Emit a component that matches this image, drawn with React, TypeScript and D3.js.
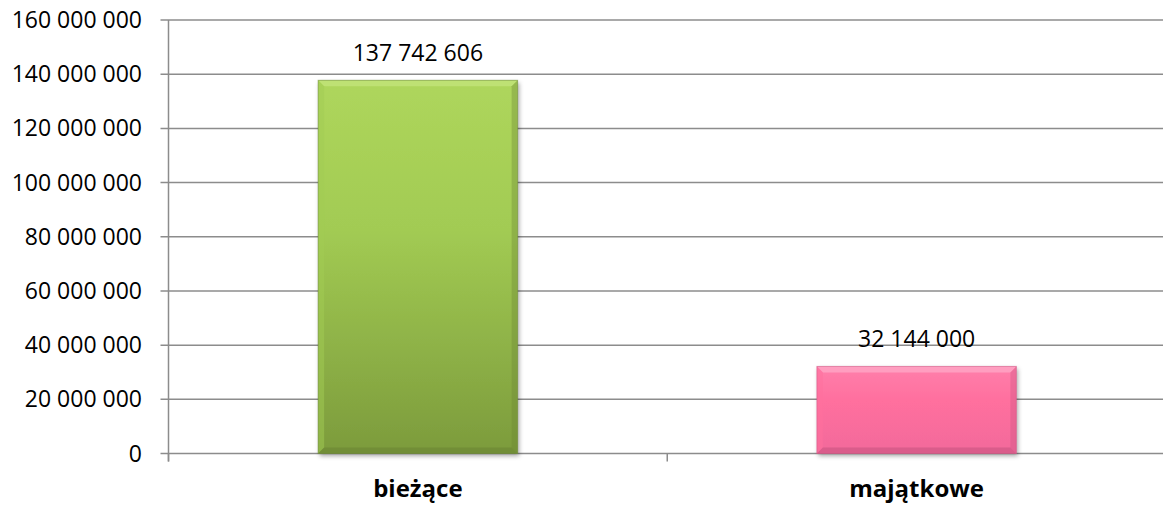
import React, { useEffect, useRef } from "react";
import * as d3 from "d3";

const categories = ["bieżące", "majątkowe"];
const values = [137742606, 32144000];
const valueLabels = ["137 742 606", "32 144 000"];
const yTicks = [0, 20000000, 40000000, 60000000, 80000000, 100000000, 120000000, 140000000, 160000000];

const fills = [
  { top: "#aed65c", mid: "#a2cb53", bottom: "#7c9b3c", light: "#c2e47a", dark: "#6a8533" },
  { top: "#ff7fab", mid: "#ff6f9e", bottom: "#f26a9b", light: "#ffa6c6", dark: "#c95480" },
];

const fmt = (v: number) => d3.format(",")(v).replace(/,/g, " ");
const font = "Open Sans, Carlito, Calibri, sans-serif";

const App = () => {
  const ref = useRef<SVGSVGElement>(null);

  useEffect(() => {
    const svg = d3.select(ref.current);
    svg.selectAll("*").remove();

    const width = 1163;
    const height = 508;
    svg.attr("width", width).attr("height", height);

    const left = 168.5;
    const right = 1166;

    const x = d3.scaleBand<string>().domain(categories).range([left, right]).paddingInner(0).paddingOuter(0);
    const y = d3.scaleLinear().domain([0, 160000000]).range([453.5, 20]);

    const defs = svg.append("defs");
    const shadow = defs.append("filter").attr("id", "shadow").attr("x", "-10%").attr("y", "-10%").attr("width", "130%").attr("height", "130%");
    shadow.append("feDropShadow").attr("dx", 1.5).attr("dy", 2.5).attr("stdDeviation", 2).attr("flood-color", "#000").attr("flood-opacity", 0.35);

    fills.forEach((f, i) => {
      const g = defs.append("linearGradient").attr("id", `grad${i}`).attr("x1", 0).attr("x2", 0).attr("y1", 0).attr("y2", 1);
      g.append("stop").attr("offset", "0%").attr("stop-color", f.top);
      g.append("stop").attr("offset", "40%").attr("stop-color", f.mid);
      g.append("stop").attr("offset", "100%").attr("stop-color", f.bottom);
    });

    // gridlines
    svg.append("g")
      .selectAll("line")
      .data(yTicks)
      .enter()
      .append("line")
      .attr("x1", left - 8)
      .attr("x2", width)
      .attr("y1", (d) => y(d))
      .attr("y2", (d) => y(d))
      .attr("stroke", "#8c8c8c")
      .attr("stroke-width", 1.5);

    // y axis line
    svg.append("line")
      .attr("x1", left).attr("x2", left)
      .attr("y1", y(160000000)).attr("y2", y(0) + 8)
      .attr("stroke", "#8c8c8c").attr("stroke-width", 1.5);

    // category ticks
    const catTicks = [left, ...categories.map((c) => (x(c) as number) + x.bandwidth())];
    svg.append("g")
      .selectAll("line")
      .data(catTicks)
      .enter()
      .append("line")
      .attr("x1", (d) => d)
      .attr("x2", (d) => d)
      .attr("y1", y(0))
      .attr("y2", y(0) + 8)
      .attr("stroke", "#8c8c8c")
      .attr("stroke-width", 1.5);

    // y labels
    svg.append("g")
      .selectAll("text")
      .data(yTicks)
      .enter()
      .append("text")
      .attr("x", 142)
      .attr("y", (d) => y(d))
      .attr("dy", "0.35em")
      .attr("text-anchor", "end")
      .style("font-family", font)
      .style("font-size", "23px")
      .style("fill", "#000")
      .text((d) => fmt(d));

    // bars
    const barW = x.bandwidth() / 2.5;
    const bev = 6;
    const bars = svg.append("g");
    categories.forEach((c, i) => {
      const x0 = (x(c) as number) + (x.bandwidth() - barW) / 2;
      const x1 = x0 + barW;
      const y0 = y(values[i]);
      const y1 = y(0);
      const f = fills[i];
      const g = bars.append("g");
      g.append("rect")
        .attr("x", x0).attr("y", y0).attr("width", barW).attr("height", y1 - y0)
        .attr("fill", `url(#grad${i})`)
        .attr("filter", "url(#shadow)");
      // bevel top
      g.append("polygon")
        .attr("points", [[x0, y0], [x1, y0], [x1 - bev, y0 + bev], [x0 + bev, y0 + bev]].map((p) => p.join(",")).join(" "))
        .attr("fill", f.light).attr("opacity", 0.8);
      // bevel left
      g.append("polygon")
        .attr("points", [[x0, y0], [x0 + bev, y0 + bev], [x0 + bev, y1 - bev], [x0, y1]].map((p) => p.join(",")).join(" "))
        .attr("fill", f.mid).attr("opacity", 0.5);
      // bevel right
      g.append("polygon")
        .attr("points", [[x1, y0], [x1 - bev, y0 + bev], [x1 - bev, y1 - bev], [x1, y1]].map((p) => p.join(",")).join(" "))
        .attr("fill", f.dark).attr("opacity", 0.35);
      // bevel bottom
      g.append("polygon")
        .attr("points", [[x0, y1], [x0 + bev, y1 - bev], [x1 - bev, y1 - bev], [x1, y1]].map((p) => p.join(",")).join(" "))
        .attr("fill", f.dark).attr("opacity", 0.6);
      g.append("rect")
        .attr("x", x0).attr("y", y0).attr("width", barW).attr("height", y1 - y0)
        .attr("fill", "none").attr("stroke", f.dark).attr("stroke-opacity", 0.5).attr("stroke-width", 1);
    });

    // value labels
    svg.append("g")
      .selectAll("text")
      .data(categories)
      .enter()
      .append("text")
      .attr("x", (d) => (x(d) as number) + x.bandwidth() / 2)
      .attr("y", (d, i) => y(values[i]) - 19)
      .attr("text-anchor", "middle")
      .style("font-family", font)
      .style("font-size", "23px")
      .style("fill", "#000")
      .text((d, i) => valueLabels[i]);

    // category labels
    svg.append("g")
      .selectAll("text")
      .data(categories)
      .enter()
      .append("text")
      .attr("x", (d) => (x(d) as number) + x.bandwidth() / 2)
      .attr("y", 497)
      .attr("text-anchor", "middle")
      .style("font-family", font)
      .style("font-size", "24px")
      .style("font-weight", "bold")
      .style("fill", "#000")
      .text((d) => d);
  }, []);

  return <svg ref={ref} style={{ position: "absolute", left: 0, top: 0 }}></svg>;
};

export default App;
